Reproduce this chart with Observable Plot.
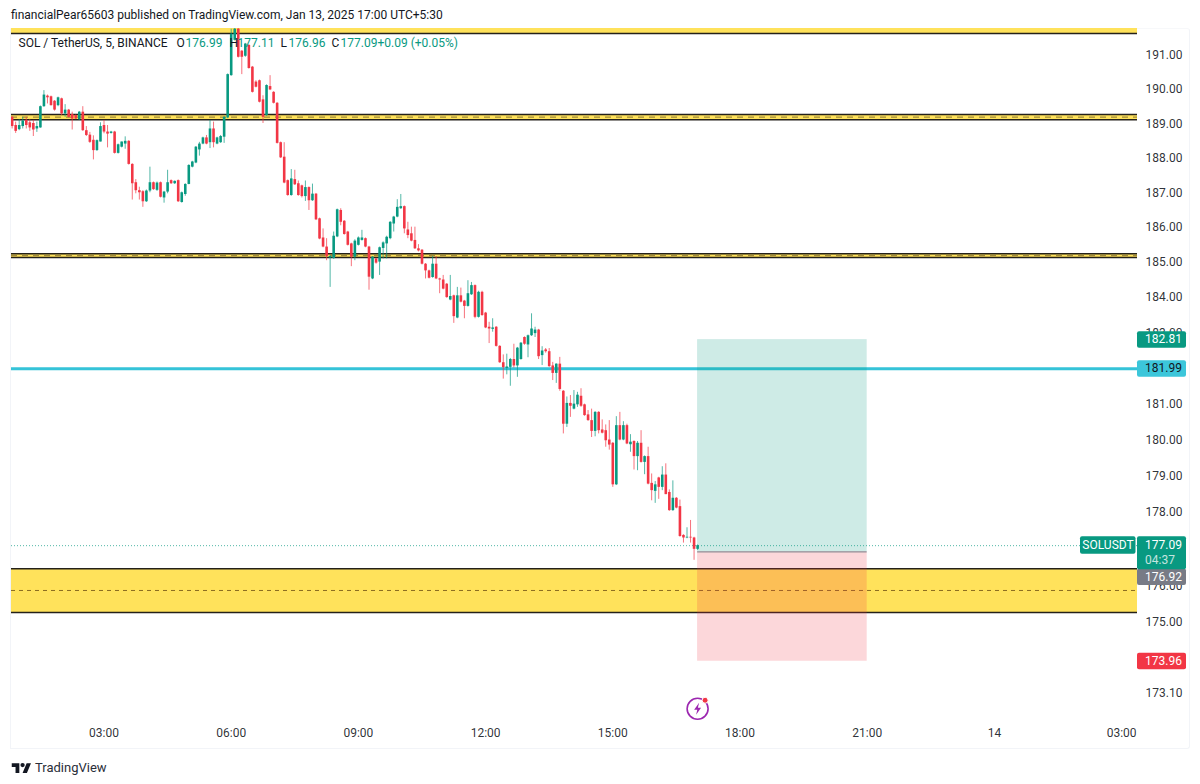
<!DOCTYPE html>
<html><head><meta charset="utf-8">
<script src="https://cdn.jsdelivr.net/npm/d3@7"></script>
<script src="https://cdn.jsdelivr.net/npm/@observablehq/plot@0.6"></script>
<style>
html,body{margin:0;padding:0;background:#fff;font-family:Roboto,sans-serif;color:#131722;overflow:hidden}
#head{height:28px;line-height:30px;padding-left:11px;font-size:12px;box-sizing:border-box;white-space:nowrap}
#wrap{position:relative;width:1200px;height:721px}
#wrap svg{display:block;position:absolute;left:0;top:0}
#pane{position:absolute;left:10px;top:0;width:1178px;height:720px;border:1px solid #f2f4f8;border-top-color:#f7f8fa;border-radius:0 3px 3px 0;box-sizing:content-box;height:719px}
#foot{position:absolute;left:11px;top:759px;height:16px;display:flex;align-items:center;gap:3px;font-size:13px;color:#2a2e39}
</style></head><body>
<div id="head">financialPear65603 published on TradingView.com, Jan 13, 2025 17:00 UTC+5:30</div>
<div id="wrap"><div id="pane"></div></div>
<div id="foot"><svg width="21" height="13" viewBox="0 0 36 24"><path d="M14 22H7V11H0V4h14v18zM28 22h-8l7.5-18h8L28 22z" fill="#131722"/><circle cx="20" cy="7.5" r="4" fill="#131722"/></svg><span>TradingView</span></div>
<script>
const opens=[189.19,188.95,188.83,188.92,189.10,189.03,189.01,188.85,188.88,189.50,189.81,189.79,189.66,189.53,189.73,189.29,189.40,189.27,189.24,189.12,
189.34,188.80,188.67,188.52,188.22,188.47,188.95,188.76,188.72,188.76,188.14,188.32,188.41,188.49,187.82,187.29,187.06,187.03,186.74,187.05,
187.29,187.07,187.29,186.85,187.02,187.35,187.26,187.35,186.72,186.95,187.24,187.74,187.86,188.24,188.41,188.59,188.45,188.85,188.41,188.45,
188.61,189.17,190.41,191.45,191.78,191.13,190.98,191.30,190.66,190.22,190.26,189.70,189.24,190.09,189.92,189.60,188.45,188.03,187.35,186.92,
187.38,187.26,187.20,186.89,187.15,186.77,186.96,186.25,185.70,185.44,185.13,185.11,185.73,186.49,186.18,185.87,185.53,185.15,185.49,185.63,
185.68,185.44,184.53,185.10,185.01,185.40,185.53,185.68,186.10,186.30,186.54,186.60,185.93,185.82,185.63,185.39,185.35,184.95,184.76,184.57,
184.95,184.53,184.50,184.38,183.93,184.05,183.42,184.05,183.90,183.75,184.08,184.34,183.44,184.15,183.56,183.16,183.10,183.16,182.62,182.16,
182.00,182.03,182.25,182.07,182.25,182.87,182.66,182.92,182.98,183.08,182.36,182.52,182.47,182.07,181.86,182.12,181.36,180.44,181.02,180.86,
180.98,181.22,180.98,180.70,180.54,180.24,180.77,180.28,180.26,180.00,179.91,178.76,180.40,180.00,180.40,179.87,179.96,179.54,179.91,179.38,
179.54,178.80,178.58,178.95,178.69,179.03,178.55,178.05,178.39,178.16,177.37,177.30,177.32,177.30,176.99];
const highs=[189.21,189.05,189.12,189.19,189.19,189.12,189.10,189.05,189.52,189.97,189.84,189.81,189.68,189.78,189.75,189.56,189.42,189.34,189.26,189.36,
189.50,188.92,188.75,188.65,188.53,189.03,189.10,188.95,188.78,188.78,188.41,188.47,188.62,188.51,187.84,187.38,187.16,187.06,187.08,187.74,
187.31,187.31,187.31,187.04,187.65,187.37,187.34,187.37,187.02,187.26,187.81,187.91,188.34,188.46,188.61,188.66,189.10,189.05,188.61,188.66,
189.21,190.46,191.78,191.85,191.85,191.15,191.36,191.32,190.68,190.26,190.28,189.82,190.14,190.41,189.94,189.62,188.47,188.45,187.37,187.67,
187.65,187.34,187.22,187.34,187.17,187.25,186.98,186.27,185.96,185.68,185.20,185.87,186.53,186.54,186.20,185.89,185.55,185.65,185.73,185.92,
185.70,185.46,185.17,185.12,185.44,185.59,185.75,186.17,186.32,186.80,186.95,186.62,186.15,186.01,186.01,185.51,185.37,184.97,184.78,185.17,
185.17,184.55,184.63,184.40,184.63,184.07,184.29,184.27,183.92,184.48,184.43,184.36,184.18,184.18,183.58,183.30,183.40,183.18,182.64,182.38,
182.40,182.28,182.68,182.59,182.73,182.89,182.94,183.54,183.16,183.10,182.61,182.56,182.56,182.17,182.13,182.31,181.38,181.20,181.24,181.38,
181.33,181.43,181.00,180.82,180.86,180.79,180.79,180.56,180.42,180.54,179.93,180.65,180.77,180.51,180.44,180.15,179.98,179.96,180.26,179.56,
179.80,179.06,178.85,178.97,179.26,179.34,178.62,178.87,178.41,178.34,177.39,177.58,177.78,177.32,177.11];
const lows=[188.85,188.72,188.80,188.85,188.85,188.78,188.63,188.75,188.87,189.48,189.58,189.52,189.37,189.50,189.24,189.19,189.17,188.82,189.12,189.10,
188.78,188.63,188.43,187.95,188.20,188.47,188.71,188.30,188.70,188.12,188.12,188.30,188.26,187.80,186.79,186.97,186.79,186.58,186.72,187.00,
187.07,187.04,186.85,186.70,186.97,187.24,187.24,186.72,186.70,186.90,187.23,187.72,187.84,188.06,188.39,188.39,188.28,188.30,188.39,188.43,
188.43,189.15,190.39,191.43,190.93,190.44,190.95,190.60,189.90,190.05,189.61,189.01,189.22,189.97,189.58,188.41,187.99,187.26,186.90,186.90,
187.21,186.90,186.85,186.75,186.49,186.75,186.20,185.65,185.42,185.05,184.29,185.09,185.71,186.05,185.78,185.47,184.88,185.05,185.47,185.61,
185.42,184.21,184.51,184.95,184.63,185.10,185.10,185.65,185.87,186.28,186.52,185.82,185.68,185.59,185.37,185.30,184.93,184.53,184.53,184.55,
184.51,184.11,184.22,183.98,183.91,183.27,183.40,183.85,183.40,183.73,184.06,183.40,183.42,183.47,183.12,182.70,183.02,182.60,182.14,181.70,
181.82,181.50,182.01,181.75,182.23,182.65,182.30,182.90,182.87,182.25,182.08,182.43,182.03,181.66,181.58,181.36,180.17,180.35,180.63,180.84,
180.91,180.91,180.66,180.52,180.07,180.09,180.17,180.17,179.80,179.72,178.69,178.74,179.98,179.98,179.87,179.66,179.17,179.15,179.36,179.04,
178.76,178.32,178.25,178.36,178.60,178.49,178.03,178.03,178.10,177.32,177.16,177.28,177.16,176.69,176.96];
const closes=[188.92,188.78,188.95,189.08,188.95,188.88,188.82,188.92,189.50,189.84,189.76,189.53,189.40,189.76,189.29,189.40,189.19,189.14,189.14,189.34,
188.80,188.66,188.46,188.22,188.51,188.92,188.76,188.70,188.76,188.14,188.39,188.47,188.49,187.82,187.26,187.06,187.00,186.74,187.05,187.29,
187.09,187.28,186.87,187.02,187.29,187.26,187.33,186.74,187.00,187.24,187.79,187.89,188.32,188.41,188.59,188.41,188.85,188.45,188.59,188.63,
189.19,190.44,191.63,191.78,190.95,190.95,191.34,190.62,189.92,190.07,189.63,189.19,190.12,189.99,189.60,188.43,188.01,187.28,186.92,187.40,
187.23,186.92,186.89,187.15,186.77,186.96,186.22,185.67,185.44,185.17,185.17,185.75,186.51,186.15,185.80,185.49,185.15,185.61,185.70,185.70,
185.44,184.58,185.15,184.98,185.42,185.56,185.72,186.15,186.30,186.58,186.60,185.96,185.77,185.61,185.39,185.33,184.95,184.76,184.55,184.95,
184.53,184.50,184.24,184.00,184.03,183.46,184.05,183.87,183.75,184.11,184.34,183.44,184.15,183.49,183.14,183.11,183.14,182.62,182.16,182.02,
182.04,182.25,182.07,182.57,182.71,182.68,182.92,183.11,183.08,182.33,182.49,182.47,182.05,181.86,182.12,181.41,180.44,181.02,180.94,181.00,
181.25,180.94,180.68,180.54,180.24,180.77,180.26,180.19,179.98,179.86,178.76,180.40,180.00,180.40,179.89,179.94,179.54,179.91,179.38,179.54,
178.78,178.60,178.76,178.69,179.03,178.49,178.05,178.39,178.12,177.34,177.30,177.32,177.30,176.99,177.09];

const firstBar=new Date(Date.UTC(2025,0,13,0,50));
const xStart=new Date(Date.UTC(2025,0,13,0,49,6));
const xEnd=new Date(Date.UTC(2025,0,14,3,22,30));
const timeTicks=[3,6,9,12,15,18,21,24,27].map(h=>new Date(Date.UTC(2025,0,13,h)));
const timeLabels=["03:00","06:00","09:00","12:00","15:00","18:00","21:00","14","03:00"];
const priceTicks=[191,190,189,188,187,186,185,184,183,181,180,179,178,176,175,173.1];

const zoneLow=[191.65,189.12,185.14,175.27];
const zoneHigh=[192.2,189.27,185.25,176.46];
const zoneMid=[189.195,185.195,175.87];
const supportLevel=181.99;
const entry=176.92, target=182.81, stop=173.96, last=177.09;
const posStart=new Date(Date.UTC(2025,0,13,17));
const posEnd=new Date(Date.UTC(2025,0,13,21));
const alertPrice=172.69;

const tagPrices=[182.81,181.99,176.92,173.96];
const tagTexts=["182.81","181.99","176.92","173.96"];
const tagFills=["#089981","#3cc6da","#787b86","#f23645"];
const tagInk=["#fff","#131722","#fff","#fff"];
const tagShift=[0,0,25,0];

const legendTexts=["SOL / TetherUS, 5, BINANCE","O","176.99","H","177.11","L","176.96","C","177.09","+0.09 (+0.05%)"];
const legendInk=["#131722","#131722","#089981","#131722","#089981","#131722","#089981","#131722","#089981","#089981"];
const legendLeft=[7,165,174,218,226,269,277,320,329,366];

const green="#089981", red="#f23645", yellow="#ffe25b", ink="#24211a";
const candles=opens.map((o,i)=>({t:new Date(+firstBar+i*3e5),o,h:highs[i],l:lows[i],c:closes[i],col:closes[i]>=o?green:red}));
const zones=zoneLow.map((l,i)=>({l,h:zoneHigh[i]}));
const bolt={draw(c,s){const k=Math.sqrt(s)/10;c.moveTo(1.5*k,-6*k);c.lineTo(-3.5*k,1*k);c.lineTo(-.3*k,1*k);c.lineTo(-1.5*k,6*k);c.lineTo(3.5*k,-1*k);c.lineTo(.3*k,-1*k);c.closePath();}};

function tags(index,{y},values,dim){
  const g=d3.create("svg:g").attr("font-family","Roboto,sans-serif").attr("font-size",12);
  const x0=dim.width-dim.marginRight;
  const box=(px,py,w,h,fill,r=2)=>g.append("rect").attr("x",px).attr("y",py).attr("width",w).attr("height",h).attr("rx",r).attr("fill",fill);
  const txt=(px,py,s,fill,anchor="start",op=1)=>g.append("text").attr("x",px).attr("y",py).attr("dy","0.35em").attr("text-anchor",anchor).attr("fill",fill).attr("opacity",op).text(s);
  tagPrices.forEach((p,i)=>{const c=y(p)+tagShift[i];box(x0,c-8,49,16.5,tagFills[i]);txt(x0+8,c,tagTexts[i],tagInk[i]);});
  const c=y(last);
  box(x0,c-9,49,33,green);
  txt(x0+8,c,"177.09","#fff");
  txt(x0+8,c+15,"04:37","#fff","start",.75);
  box(x0-57,c-9,55.5,17.5,green);
  txt(x0-29,c,"SOLUSDT","#fff","middle");
  return g.node();
}

const chart=Plot.plot({
  width:1200,height:721,marginTop:0,marginLeft:11,marginRight:63,marginBottom:31,
  style:{fontFamily:"Roboto,sans-serif",fontSize:"12px",color:"#131722",background:"transparent"},
  x:{type:"utc",domain:[xStart,xEnd]},
  y:{type:"log",domain:[172.43,191.8]},
  color:{type:"identity"},
  marks:[
    Plot.axisY(priceTicks,{anchor:"right",tickSize:0,tickPadding:8,tickFormat:d=>d.toFixed(2),label:null,fontSize:12,fill:"#131722",fillOpacity:.9}),
    Plot.axisX(timeTicks,{anchor:"bottom",tickSize:0,tickPadding:10,tickFormat:(d,i)=>timeLabels[i],label:null,fontSize:12,fill:"#131722",fillOpacity:.9}),
    Plot.rect(zones,{x1:()=>xStart,x2:()=>xEnd,y1:"l",y2:"h",fill:yellow,clip:true}),
    Plot.ruleY(zones,{y:"l",x1:xStart,x2:xEnd,stroke:ink,strokeWidth:1.5}),
    Plot.ruleY(zones.slice(1),{y:"h",x1:xStart,x2:xEnd,stroke:ink,strokeWidth:1.5}),
    Plot.ruleY(zoneMid.slice(0,2),{x1:xStart,x2:xEnd,stroke:"#a08a3a",strokeWidth:1.2,strokeDasharray:"6,5"}),
    Plot.ruleY(zoneMid.slice(2),{x1:xStart,x2:xEnd,stroke:"#8a6a20",strokeWidth:1,strokeDasharray:"4,4"}),
    Plot.ruleY([supportLevel],{x1:xStart,x2:xEnd,stroke:"#35c3d8",strokeWidth:3.2}),
    Plot.rect([{a:entry,b:target}],{x1:()=>posStart,x2:()=>posEnd,y1:"a",y2:"b",fill:green,fillOpacity:.2}),
    Plot.rect([{a:stop,b:entry}],{x1:()=>posStart,x2:()=>posEnd,y1:"a",y2:"b",fill:red,fillOpacity:.2}),
    Plot.ruleY([entry],{x1:posStart,x2:posEnd,stroke:"#787b86",strokeWidth:1}),
    Plot.ruleY([last],{x1:xStart,x2:xEnd,stroke:green,strokeWidth:1,strokeDasharray:"1,2",strokeOpacity:.7}),
    Plot.ruleX(candles,{x:"t",y1:"l",y2:"h",stroke:"col",strokeWidth:1,strokeOpacity:.7,clip:true}),
    Plot.ruleX(candles,{x:"t",y1:"o",y2:"c",stroke:"col",strokeWidth:2.6,clip:true}),
    ...legendTexts.map((s,i)=>Plot.text([s],{frameAnchor:"top-left",dx:legendLeft[i],dy:15,lineAnchor:"middle",textAnchor:"start",fill:legendInk[i],fontSize:12})),
    Plot.dot([alertPrice],{x:()=>posStart,y:d=>d,r:10.5,stroke:"#9c27b0",strokeWidth:1.6,fill:"#fff"}),
    Plot.dot([alertPrice],{x:()=>posStart,y:d=>d,symbol:bolt,r:5.6,fill:"#9c27b0"}),
    Plot.dot([alertPrice],{x:()=>posStart,y:d=>d,dx:7.5,dy:-8.5,r:3,fill:"#f23645",stroke:"#fff",strokeWidth:1}),
    tags
  ]
});
document.getElementById("wrap").appendChild(chart);
</script>
</body></html>
